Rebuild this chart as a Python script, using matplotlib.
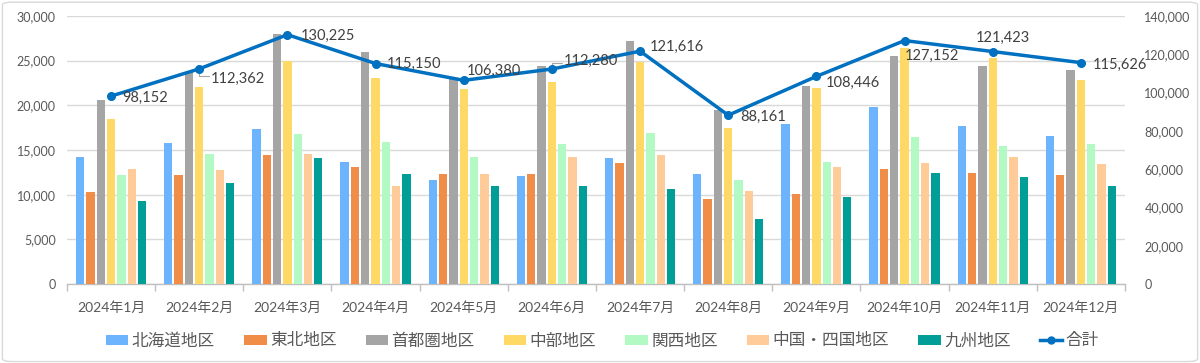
import matplotlib
matplotlib.use("Agg")
import matplotlib.pyplot as plt
import numpy as np
from matplotlib.patches import FancyBboxPatch, Patch
from matplotlib.lines import Line2D

plt.rcParams['font.family'] = ['Lato', 'Noto Sans CJK JP', 'DejaVu Sans']

months = ["2024年1月", "2024年2月", "2024年3月", "2024年4月", "2024年5月", "2024年6月",
          "2024年7月", "2024年8月", "2024年9月", "2024年10月", "2024年11月", "2024年12月"]
regions = ["北海道地区", "東北地区", "首都圏地区", "中部地区", "関西地区", "中国・四国地区", "九州地区"]

hokkaido = [14250, 15750, 17350, 13700, 11650, 12050, 14050, 12300, 17900, 19850, 17700, 16550]
tohoku   = [10350, 12200, 14450, 13100, 12300, 12350, 13550, 9550, 10050, 12900, 12450, 12150]
shutoken = [20650, 23700, 28000, 25950, 22950, 24450, 27150, 19500, 22150, 25500, 24400, 24000]
chubu    = [18450, 22100, 24950, 23050, 21850, 22600, 24900, 17450, 21900, 26400, 25300, 22800]
kansai   = [12250, 14550, 16800, 15950, 14250, 15650, 16950, 11600, 13650, 16450, 15400, 15650]
chugoku  = [12850, 12750, 14550, 10950, 12300, 14200, 14400, 10400, 13050, 13550, 14200, 13450]
kyushu   = [9250, 11300, 14100, 12350, 10950, 10950, 10650, 7300, 9750, 12400, 11950, 11000]
total    = [98152, 112362, 130225, 115150, 106380, 112280, 121616, 88161, 108446, 127152, 121423, 115626]

series = [hokkaido, tohoku, shutoken, chubu, kansai, chugoku, kyushu]
colors = ["#6DB4FF", "#F08D48", "#A5A5A5", "#FFD966", "#B3F9C4", "#FFCB99", "#009E96"]
line_color = "#0070C0"
text_color = "#595959"

# label offsets (points) for total labels
label_offsets = [(8, -1), (8, -7), (9.5, -1), (8, 0), (2.5, 6.5), (8.5, 6), (7, 3), (8.5, -1),
                 (7, -5), (0, -11), (-12, 9.5), (8.5, -1.5)]
leader = [False, True, False, False, False, True, False, False, False, False, False, False]

fig = plt.figure(figsize=(12, 3.63), dpi=100)
fig.patches.append(FancyBboxPatch((0.002, 0.004), 0.996, 0.99, boxstyle="round,pad=0,rounding_size=0.008",
                                  transform=fig.transFigure, facecolor="white", edgecolor="#D9D9D9",
                                  linewidth=1.0, zorder=-10))

ax = fig.add_axes([0.0558, 0.2176, 0.8817, 0.7384])
ax.set_facecolor("none")
x = np.arange(len(months))
slot = 0.117
bw = 0.094
n = len(series)
for i, (vals, c) in enumerate(zip(series, colors)):
    ax.bar(x + (i - (n - 1) / 2) * slot, vals, width=bw, color=c, zorder=3, label=regions[i])

ax.set_xlim(-0.5, len(months) - 0.5)
ax.set_ylim(0, 30000)
ax.set_yticks(np.arange(0, 30001, 5000))
ax.set_yticklabels([f"{v:,}" for v in range(0, 30001, 5000)])
ax.yaxis.grid(True, color="#D9D9D9", linewidth=1, zorder=0)
ax.set_axisbelow(True)
for s in ["left", "right", "top"]:
    ax.spines[s].set_visible(False)
ax.spines["bottom"].set_color("#BFBFBF")
ax.spines["bottom"].set_linewidth(1)
ax.set_xticks(x)
ax.set_xticklabels(months)
ax.set_xticks(np.arange(-0.5, len(months) + 0.5, 1), minor=True)
ax.tick_params(axis="x", which="major", length=0, pad=12, labelsize=10, colors=text_color)
ax.tick_params(axis="x", which="minor", length=5, color="#BFBFBF", width=1)
ax.tick_params(axis="y", length=0, pad=8, labelsize=9, colors=text_color)

ax2 = ax.twinx()
ax2.set_ylim(0, 140000)
ax2.set_yticks(np.arange(0, 140001, 20000))
ax2.set_yticklabels([f"{v:,}" for v in range(0, 140001, 20000)])
for s in ["left", "right", "top", "bottom"]:
    ax2.spines[s].set_visible(False)
ax2.tick_params(axis="y", length=0, pad=14, labelsize=9, colors=text_color)
ax2.plot(x, total, color=line_color, linewidth=2.5, marker="o", markersize=5.5, zorder=5, label="合計")
for xi, v, off, ld in zip(x, total, label_offsets, leader):
    ax2.annotate(f"{v:,}", (xi, v), xytext=off, textcoords="offset points", ha="left", va="center",
                 fontsize=10.5, color="#404040", zorder=6)
    if ld:
        sign = -1 if off[1] < 0 else 1
        ax2.annotate("", (xi, v), xytext=(off[0] - 1, off[1] - sign * 2), textcoords="offset points",
                     arrowprops=dict(arrowstyle="-", color="#A6A6A6", lw=0.8, shrinkA=0, shrinkB=3,
                                     connectionstyle="angle,angleA=0,angleB=90"), zorder=4)

handles = [Patch(facecolor=c, edgecolor="none") for c in colors]
handles.append(Line2D([0], [0], color=line_color, linewidth=2.5, marker="o", markersize=5))
labels = regions + ["合計"]
fig.legend(handles, labels, loc="center", bbox_to_anchor=(0.502, 0.062), ncol=8, frameon=False,
           fontsize=12, labelcolor=text_color, handlelength=1.35, handleheight=0.55,
           handletextpad=0.2, columnspacing=1.75)

fig.savefig("out.png", dpi=100)
